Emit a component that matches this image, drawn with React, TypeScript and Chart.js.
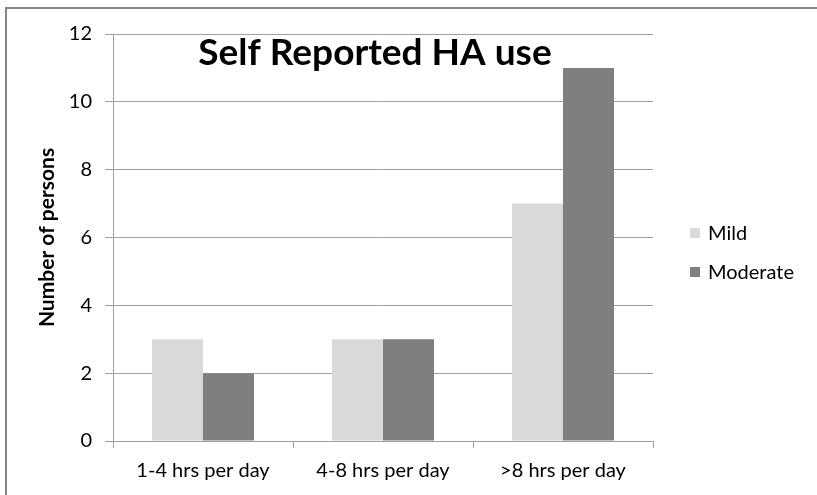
import React, { useEffect, useRef } from 'react';
import { Chart, registerables } from 'chart.js';

Chart.register(...registerables);

const categories = ['1-4 hrs per day', '4-8 hrs per day', '>8 hrs per day'];
const mildValues = [3, 3, 7];
const moderateValues = [2, 3, 11];
const seriesNames = ['Mild', 'Moderate'];
const seriesColors = ['#d9d9d9', '#7f7f7f'];
const yMin = 0;
const yMax = 12;
const yStep = 2;
const chartTitle = 'Self Reported HA use';
const yAxisTitle = 'Number of persons';

const FONT = 'Lato, "Open Sans", sans-serif';

const framePlugin = {
  id: 'frame',
  afterDraw(chart: any) {
    const ctx = chart.ctx;
    ctx.save();
    ctx.strokeStyle = '#868686';
    ctx.lineWidth = 2;
    ctx.beginPath();
    ctx.moveTo(6, chart.height);
    ctx.lineTo(6, 8);
    ctx.lineTo(chart.width, 8);
    ctx.stroke();
    ctx.restore();
  },
};

const titlePlugin = {
  id: 'insideTitle',
  afterDraw(chart: any) {
    const ctx = chart.ctx;
    const a = chart.chartArea;
    ctx.save();
    ctx.font = `bold 37px ${FONT}`;
    ctx.fillStyle = '#000';
    ctx.textAlign = 'center';
    ctx.textBaseline = 'alphabetic';
    ctx.fillText(chartTitle, (a.left + a.right) / 2 - 8, a.top + 31);
    ctx.restore();
  },
};

const legendPlugin = {
  id: 'sideLegend',
  afterDraw(chart: any) {
    const ctx = chart.ctx;
    const a = chart.chartArea;
    const x = a.right + 37;
    const ys = [233, 272];
    ctx.save();
    ctx.font = `20px ${FONT}`;
    ctx.textAlign = 'left';
    ctx.textBaseline = 'middle';
    seriesNames.forEach((name, i) => {
      ctx.fillStyle = seriesColors[i];
      ctx.fillRect(x, ys[i] - 5, 10, 10);
      ctx.fillStyle = '#000';
      ctx.fillText(name, x + 18, ys[i] + 1);
    });
    ctx.restore();
  },
};

export default function App() {
  const ref = useRef<HTMLCanvasElement | null>(null);

  useEffect(() => {
    if (!ref.current) return;
    const chart = new Chart(ref.current, {
      type: 'bar',
      data: {
        labels: categories,
        datasets: [
          {
            label: seriesNames[0],
            data: mildValues,
            backgroundColor: seriesColors[0],
            borderWidth: 0,
            categoryPercentage: 0.567,
            barPercentage: 1.0,
          },
          {
            label: seriesNames[1],
            data: moderateValues,
            backgroundColor: seriesColors[1],
            borderWidth: 0,
            categoryPercentage: 0.567,
            barPercentage: 1.0,
          },
        ],
      },
      options: {
        animation: false,
        responsive: false,
        devicePixelRatio: 1,
        layout: { padding: { top: 34, right: 164, left: 0, bottom: 0 } },
        plugins: {
          legend: { display: false },
          title: { display: false },
          tooltip: { enabled: false },
        },
        scales: {
          x: {
            afterFit: (s: any) => {
              s.height = 54;
            },
            grid: {
              offset: true,
              drawOnChartArea: false,
              drawTicks: true,
              tickLength: 7,
              color: '#a0a0a0',
            },
            border: { color: '#a0a0a0', width: 1 },
            ticks: {
              color: '#000',
              font: { family: FONT, size: 20 },
              padding: 11,
              maxRotation: 0,
            },
          },
          y: {
            min: yMin,
            max: yMax,
            afterFit: (s: any) => {
              s.width = 113;
            },
            grid: {
              color: '#a0a0a0',
              tickLength: 8,
              drawTicks: true,
            },
            border: { color: '#a0a0a0', width: 1 },
            ticks: {
              stepSize: yStep,
              color: '#000',
              font: { family: FONT, size: 20 },
              padding: 13,
            },
            title: {
              display: true,
              text: yAxisTitle,
              color: '#000',
              font: { family: FONT, size: 21, weight: 'bold' },
              padding: { top: 35, bottom: 0 },
            },
          },
        },
      },
      plugins: [framePlugin, titlePlugin, legendPlugin],
    } as any);
    return () => chart.destroy();
  }, []);

  return (
    <div style={{ position: 'fixed', left: 0, top: 0, width: 817, height: 495, background: '#fff' }}>
      <canvas ref={ref} width={817} height={495} style={{ display: 'block' }} />
    </div>
  );
}
